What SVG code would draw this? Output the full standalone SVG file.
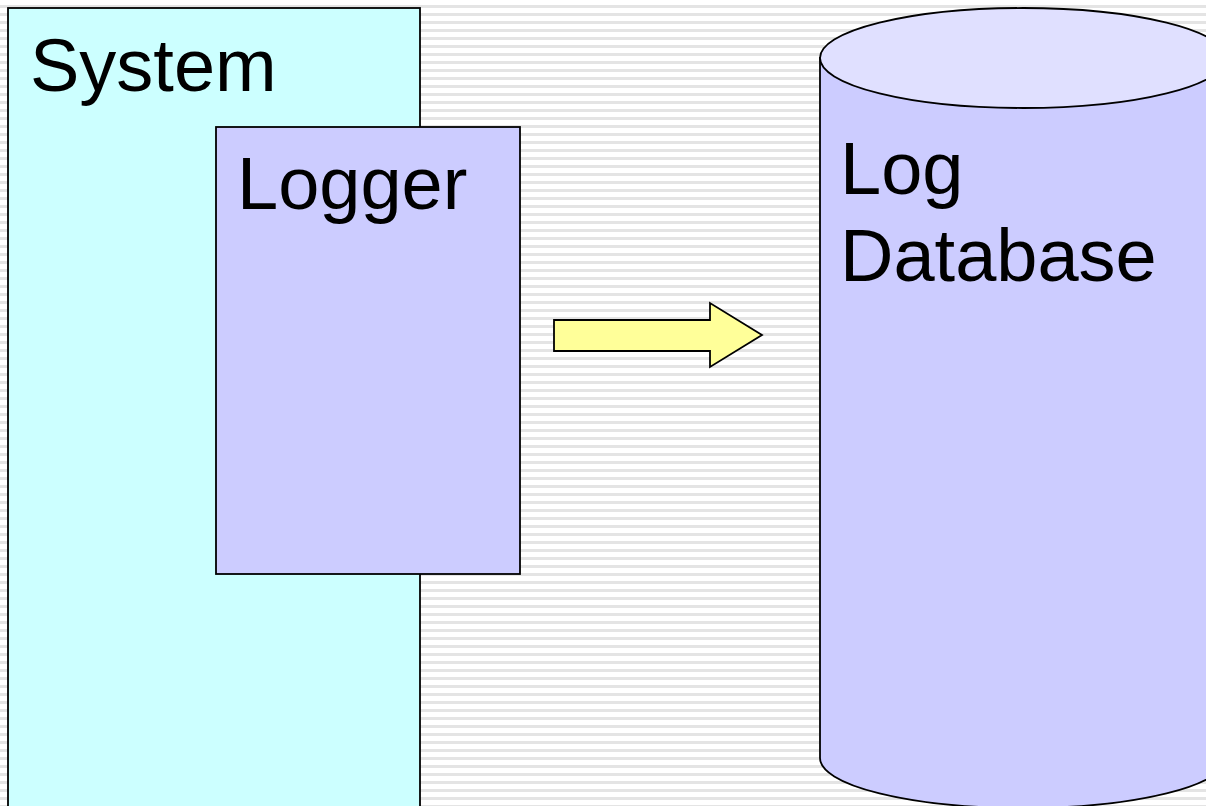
<svg xmlns="http://www.w3.org/2000/svg" width="1206" height="806" viewBox="0 0 1206 806">
<defs>
<pattern id="stripes" x="0" y="0" width="8" height="8" patternUnits="userSpaceOnUse">
<rect width="8" height="8" fill="#ffffff"/>
<rect y="5" width="8" height="3" fill="#e4e4e4"/>
</pattern>
</defs>
<style>
.lbl{font-family:"Liberation Sans",Arial,sans-serif;font-size:74px;fill:#000}
.sh{stroke:#000;stroke-width:1.8}
</style>
<rect width="1206" height="806" fill="url(#stripes)"/>
<g id="system">
<rect class="sh" x="8" y="8" width="412" height="820" fill="#ccffff"/>
<text class="lbl" x="30" y="91">System</text>
</g>
<g id="logger">
<rect class="sh" x="216" y="127" width="304" height="447" fill="#ccccff"/>
<text class="lbl" x="237" y="209">Logger</text>
</g>
<g id="connectors">
<polygon class="sh" points="554,320 710,320 710,303 762,335 710,367 710,351 554,351" fill="#ffff99" stroke-width="2.2"/>
</g>
<g id="logdb">
<path class="sh" d="M820,58 L820,758 A203,50 0 0 0 1226,758 L1226,58 Z" fill="#ccccff"/>
<ellipse class="sh" cx="1023" cy="58" rx="203" ry="50" fill="#e0e0ff"/>
<text class="lbl" x="840" y="194">Log</text>
<text class="lbl" x="840" y="281">Database</text>
</g>
</svg>
